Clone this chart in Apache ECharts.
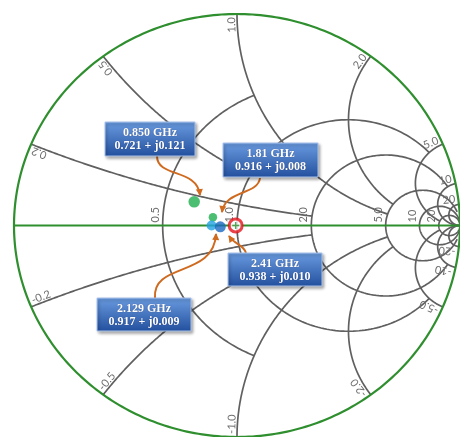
<!DOCTYPE html>
<html><head><meta charset="utf-8">
<script src="https://cdn.jsdelivr.net/npm/echarts@6/dist/echarts.min.js"></script>
<style>html,body{margin:0;padding:0;background:#fff}#c{width:460px;height:437px}</style>
</head><body><div id="c"></div>
<script>
// ---- Smith chart grid values ----
const resistanceValues = [0.5, 1, 2, 5, 10, 20];
const resistanceLimits = [1, 5, 10, 30, Infinity, Infinity];   // |x| where each circle stops
const resistanceLabels = ['0.5', '1.0', '2.0', '5.0', '10', '20'];
const reactanceValues = [0.2, 0.5, 1, 2, 5, 10, 20];
const reactanceLimits = [2, 1, 5, 5, 20, Infinity, Infinity];   // r where each arc stops
const reactanceLabelsPos = ['0.2', '0.5', '1.0', '2.0', '5.0', '10', '20'];
const reactanceLabelsNeg = ['-0.2', '-0.5', '-1.0', '-2.0', '-5.0', '-10', '-20'];

const freqLabels = ['0.850 GHz', '1.81 GHz', '2.129 GHz', '2.41 GHz'];
const impedanceLabels = ['0.721 + j0.121', '0.916 + j0.008', '0.917 + j0.009', '0.938 + j0.010'];
const gammaRe = [-0.192, -0.108, -0.114, -0.075];
const gammaIm = [0.112, 0.039, 0.000, -0.006];
const matchGamma = [-0.006, 0];

// ---- styling / layout (not data) ----
const markerColors = ['#1fae4f', '#1fae4f', '#22a2e4', '#1a68c2'];
const markerSizes = [11.5, 8.5, 10, 11];
const boxLayout = [[105, 122, 90, 34], [223, 143, 95, 34], [97, 298, 94, 33], [228, 253, 94, 33]];
const arrowLayout = [
  [[157, 156], [157, 178], [197, 168], [200, 195]],
  [[260, 178], [258, 195], [225, 190], [222, 212]],
  [[155, 298], [152, 262], [214, 278], [216, 234]],
  [[246, 253], [244, 245], [235, 245], [229, 236]]
];
const GRID_COLOR = '#606060', GREEN = '#2f8f2f', LABEL_COLOR = '#6e6e6e', ORANGE = '#cf6a1f';

function gammaOf(r, x) {
  const dr = r + 1, nr = r - 1, den = dr * dr + x * x;
  return [(nr * dr + x * x) / den, (2 * x) / den];
}

function renderGrid(params, api) {
  const children = [];
  const N = 180;
  const gs = () => ({ stroke: GRID_COLOR, lineWidth: 1.7, fill: null });
  resistanceValues.forEach((r, i) => {
    const c = r / (1 + r), rho = 1 / (1 + r), lim = resistanceLimits[i];
    let a0 = 0;
    if (isFinite(lim)) { const g = gammaOf(r, lim); a0 = Math.atan2(g[1], g[0] - c); }
    const pts = [];
    for (let k = 0; k <= N; k++) {
      const a = a0 + (2 * Math.PI - 2 * a0) * k / N;
      pts.push(api.coord([c + rho * Math.cos(a), rho * Math.sin(a)]));
    }
    children.push({ type: 'polyline', shape: { points: pts }, style: gs(), silent: true });
  });
  reactanceValues.forEach((x0, i) => {
    [x0, -x0].forEach(x => {
      const cy = 1 / x, rho = 1 / Math.abs(x), lim = reactanceLimits[i];
      const g0 = gammaOf(0, x);
      const g1 = isFinite(lim) ? gammaOf(lim, x) : [1, 0];
      const a0 = Math.atan2(g0[1] - cy, g0[0] - 1);
      let d = Math.atan2(g1[1] - cy, g1[0] - 1) - a0;
      while (d > Math.PI) d -= 2 * Math.PI;
      while (d < -Math.PI) d += 2 * Math.PI;
      const pts = [];
      for (let k = 0; k <= N; k++) {
        const a = a0 + d * k / N;
        pts.push(api.coord([1 + rho * Math.cos(a), cy + rho * Math.sin(a)]));
      }
      children.push({ type: 'polyline', shape: { points: pts }, style: gs(), silent: true });
    });
  });
  // resistance labels along the real axis
  resistanceValues.forEach((r, i) => {
    const p = api.coord([(r - 1) / (r + 1), 0]);
    children.push({
      type: 'text', x: p[0] - 2, y: p[1] - 3, rotation: Math.PI / 2, silent: true,
      style: { text: resistanceLabels[i], fill: LABEL_COLOR, font: '11px Lato', align: 'left', verticalAlign: 'bottom' }
    });
  });
  // reactance labels on the rim
  reactanceValues.forEach((x0, i) => {
    [[x0, reactanceLabelsPos[i]], [-x0, reactanceLabelsNeg[i]]].forEach(([x, txt]) => {
      const pE = api.coord(gammaOf(0, x));
      const pP = api.coord(gammaOf(0.05, x));
      let dx = pP[0] - pE[0], dy = pP[1] - pE[1];
      const L = Math.hypot(dx, dy); dx /= L; dy /= L;
      const angIn = Math.atan2(-dy, dx);
      const upper = x > 0;
      children.push({
        type: 'text', x: pE[0] + dx * 3, y: pE[1] + dy * 3,
        rotation: upper ? angIn + Math.PI : angIn, silent: true,
        style: { text: txt, fill: LABEL_COLOR, font: '11px Lato', align: upper ? 'right' : 'left', verticalAlign: 'bottom' }
      });
    });
  });
  // outer circle and real axis
  const pts = [];
  for (let k = 0; k <= 360; k++) { const a = 2 * Math.PI * k / 360; pts.push(api.coord([Math.cos(a), Math.sin(a)])); }
  children.push({ type: 'polyline', shape: { points: pts }, style: { stroke: GREEN, lineWidth: 2.2, fill: null }, silent: true });
  const l0 = api.coord([-1, 0]), l1 = api.coord([1, 0]);
  children.push({ type: 'line', shape: { x1: l0[0], y1: l0[1], x2: l1[0], y2: l1[1] }, style: { stroke: GREEN, lineWidth: 2.2 }, silent: true });
  return { type: 'group', children };
}

const pointData = gammaRe.map((g, i) => ({
  value: [g, gammaIm[i]], symbolSize: markerSizes[i], itemStyle: { color: markerColors[i] }
}));

// annotations (boxes + arrows)
const graphics = [];
arrowLayout.forEach(a => {
  graphics.push({
    type: 'bezierCurve', z: 50, silent: true,
    shape: { x1: a[0][0], y1: a[0][1], cpx1: a[1][0], cpy1: a[1][1], cpx2: a[2][0], cpy2: a[2][1], x2: a[3][0], y2: a[3][1] },
    style: { stroke: ORANGE, lineWidth: 2, fill: null }
  });
  let dx = a[3][0] - a[2][0], dy = a[3][1] - a[2][1];
  const L = Math.hypot(dx, dy); dx /= L; dy /= L;
  const tip = [a[3][0] + dx * 1, a[3][1] + dy * 1];
  const back = [tip[0] - dx * 7, tip[1] - dy * 7];
  graphics.push({
    type: 'polygon', z: 50, silent: true,
    shape: { points: [tip, [back[0] - dy * 3.5, back[1] + dx * 3.5], [back[0] + dy * 3.5, back[1] - dx * 3.5]] },
    style: { fill: ORANGE }
  });
});
boxLayout.forEach((b, i) => {
  graphics.push({
    type: 'rect', z: 60, silent: true,
    shape: { x: b[0], y: b[1], width: b[2], height: b[3] },
    style: {
      fill: new echarts.graphic.LinearGradient(0, 0, 0, 1, [{ offset: 0, color: '#6a9be0' }, { offset: 1, color: '#23509e' }]),
      stroke: '#a9c3ec', lineWidth: 1,
      shadowBlur: 3, shadowOffsetX: 1.5, shadowOffsetY: 2, shadowColor: 'rgba(0,0,0,0.35)'
    }
  });
  const cx = b[0] + b[2] / 2;
  [[freqLabels[i], 10.5], [impedanceLabels[i], 23.5]].forEach(([t, dy]) => {
    graphics.push({
      type: 'text', z: 61, silent: true, x: cx, y: b[1] + dy,
      style: { text: t, fill: '#ffffff', font: 'bold 12px "Liberation Serif"', align: 'center', verticalAlign: 'middle',
               textShadowColor: 'rgba(0,0,40,0.5)', textShadowBlur: 1 }
    });
  });
});

const chart = echarts.init(document.getElementById('c'), null, { renderer: 'canvas' });
chart.setOption({
  animation: false,
  backgroundColor: '#ffffff',
  grid: { left: 14, top: 14, width: 456, height: 424 },
  xAxis: { type: 'value', min: -1, max: 1, show: false },
  yAxis: { type: 'value', min: -1, max: 1, show: false },
  series: [
    { type: 'custom', renderItem: renderGrid, data: [[0, 0]], z: 1, silent: true, clip: false },
    { type: 'scatter', data: [{ value: matchGamma }], symbol: 'circle', symbolSize: 13, z: 5, silent: true,
      itemStyle: { color: '#ffffff', borderColor: '#e3141c', borderWidth: 3 } },
    { type: 'scatter', data: [{ value: matchGamma }], symbol: 'path://M4,0H6V4H10V6H6V10H4V6H0V4H4Z', symbolSize: 7, z: 6, silent: true,
      itemStyle: { color: GREEN } },
    { type: 'scatter', data: pointData, symbol: 'circle', z: 7, silent: true }
  ],
  graphic: graphics
});
</script></body></html>
